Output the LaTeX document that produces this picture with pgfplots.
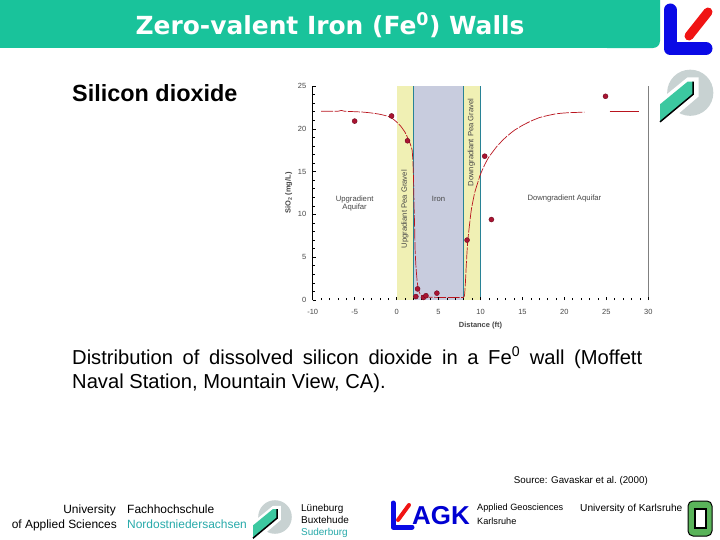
\documentclass[border=0pt]{standalone}
\usepackage{pgfplots}
\pgfplotsset{compat=1.18}
\usepackage{fontspec}
\setmainfont{Liberation Sans}
\newfontfamily\titlefont{DejaVu Sans}
\definecolor{titlegreen}{RGB}{25,195,155}
\definecolor{pyellow}{RGB}{240,240,180}
\definecolor{ironblue}{RGB}{200,204,222}
\definecolor{wallline}{RGB}{40,130,150}
\definecolor{curvered}{RGB}{185,20,30}
\definecolor{markfill}{RGB}{170,20,50}
\definecolor{markdraw}{RGB}{110,10,30}
\definecolor{logogray}{RGB}{200,210,210}
\definecolor{logoteal}{RGB}{60,200,160}
\definecolor{textteal}{RGB}{40,170,170}
\definecolor{agkblue}{RGB}{0,0,210}
\definecolor{lblue}{RGB}{10,10,230}
\definecolor{lred}{RGB}{240,20,20}
\definecolor{kagreen}{RGB}{90,180,90}
\definecolor{labelgray}{RGB}{70,70,70}

\newcommand\fhlogo[3]{%
\begin{scope}[shift={(#1,#2)},scale=#3]
 \fill[logogray] (0.55,0.45) circle (0.42);
 \fill[white] (-0.05,0.62) -- (0.5,0.17) -- (0.7,0.17) -- (0.7,0.52) -- (0.08,1.05) -- (-0.05,1.05) -- cycle;
 \fill[logoteal] (0,0.98) -- (0,0.66) -- (0.5,0.25) -- (0.6,0.25) -- (0.6,0.48) -- cycle;
 \draw[black,line width=1.5bp] (0.6,0.25) -- (0.6,0.48) -- (0,0.98);
\end{scope}}

\begin{document}
\begin{tikzpicture}
\path[use as bounding box, fill=white] (0,0) rectangle (720bp,-540bp);
\begin{scope}[x=1bp,y=-1bp]
 \fill[titlegreen] (0,0) rectangle (640,48);
 \fill[titlegreen, rounded corners=7bp] (600,-20) rectangle (660,48);
 \node[anchor=base, text=white, inner sep=0, font=\titlefont\bfseries\fontsize{25}{30}\selectfont] at (330,34) {Zero-valent Iron (Fe\textsuperscript{0}) Walls};
 % top-right logos
 \draw[line width=13bp, color=lblue, line cap=round, line join=round] (670,10) -- (670,48.5) -- (706,48.5);
 \draw[line width=9bp, color=lred, line cap=round] (689,36) -- (708,12);
 \fhlogo{660}{68}{55}
 % texts
 \node[anchor=base west, inner sep=0, font=\bfseries\fontsize{23.5}{28}\selectfont] at (72,101.5) {Silicon dioxide};
 \node[anchor=base west, inner sep=0, font=\fontsize{20.25}{24}\selectfont] at (72,364.3) {\makebox[570bp][s]{Distribution of dissolved silicon dioxide in a Fe\textsuperscript{0} wall (Moffett}};
 \node[anchor=base west, inner sep=0, font=\fontsize{20.25}{24}\selectfont] at (72,388.3) {Naval Station, Mountain View, CA).};
 \node[anchor=base east, inner sep=0, font=\fontsize{9.8}{11}\selectfont] at (648,483.5) {Source: Gavaskar et al.\ (2000)};
 % footer
 \node[anchor=base east, inner sep=0, font=\fontsize{12}{14}\selectfont] at (116,513.3) {University};
 \node[anchor=base west, inner sep=0, font=\fontsize{12}{14}\selectfont] at (127,513.3) {Fachhochschule};
 \node[anchor=base east, inner sep=0, font=\fontsize{12}{14}\selectfont] at (117,528.3) {of Applied Sciences};
 \node[anchor=base west, inner sep=0, font=\fontsize{12}{14}\selectfont, text=textteal] at (127,528.3) {Nordostniedersachsen};
 \fhlogo{253}{499}{40}
 \node[anchor=base west, inner sep=0, font=\fontsize{10}{12}\selectfont] at (301,511.6) {Lüneburg};
 \node[anchor=base west, inner sep=0, font=\fontsize{10}{12}\selectfont] at (301,523.6) {Buxtehude};
 \node[anchor=base west, inner sep=0, font=\fontsize{10}{12}\selectfont, text=textteal] at (301,535.6) {Suderburg};
 \draw[line width=5bp, color=lblue, line cap=round, line join=round] (393,503) -- (393,527) -- (412,527);
 \draw[line width=4bp, color=lred, line cap=round] (398,520) -- (409,505);
 \node[anchor=base west, inner sep=0, font=\bfseries\fontsize{26}{32}\selectfont, text=agkblue] at (412,524) {AGK};
 \node[anchor=base west, inner sep=0, font=\fontsize{9.2}{11}\selectfont] at (477,510.5) {Applied Geosciences};
 \node[anchor=base west, inner sep=0, font=\fontsize{9.2}{11}\selectfont] at (477,524) {Karlsruhe};
 \node[anchor=base west, inner sep=0, font=\fontsize{10.2}{11}\selectfont] at (580,511.5) {University of Karlsruhe};
 \filldraw[fill=kagreen, draw=black, line width=1bp, rounded corners=5bp] (688,501) rectangle (712,536);
 \filldraw[fill=white, draw=black, line width=2bp] (694.5,509) rectangle (705.5,528);
\end{scope}

\begin{axis}[
  scale only axis, width=335.6bp, height=214bp,
  at={(312.7bp,-300bp)}, anchor=south west,
  xmin=-10, xmax=30, ymin=0, ymax=25,
  axis x line*=bottom, axis y line*=left,
  x axis line style={draw=none},
  y axis line style={black, line width=0.8bp},
  xtick={-10,-5,...,30}, ytick={0,5,...,25},
  minor x tick num=4, minor y tick num=4,
  tick align=inside, major tick length=3.5bp, minor tick length=2.5bp,
  tick style={black, line width=0.6bp},
  ticklabel style={font=\fontsize{7.5}{9}\selectfont, text=labelgray},
  /pgf/number format/assume math mode=true,
  xticklabel style={yshift=-6bp},
  yticklabel style={xshift=-3bp},
  xlabel={Distance (ft)}, ylabel={SiO\textsubscript{2} (mg/L)},
  every axis x label/.style={at={(axis description cs:0.5,-0.121)}, anchor=center, font=\bfseries\fontsize{7.5}{9}\selectfont, text=labelgray},
  every axis y label/.style={at={(axis description cs:-0.0715,0.5)}, anchor=center, rotate=90, font=\bfseries\fontsize{7.5}{9}\selectfont, text=labelgray},
  clip=false, axis on top,
]
\addplot[fill=pyellow, draw=none] coordinates {(0,25) (2,25)} \closedcycle;
\addplot[fill=ironblue, draw=none] coordinates {(2,25) (8,25)} \closedcycle;
\addplot[fill=pyellow, draw=none] coordinates {(8,25) (10,25)} \closedcycle;
\addplot[wallline, line width=0.8bp] coordinates {(2,0) (2,25)};
\addplot[wallline, line width=0.8bp] coordinates {(8,0) (8,25)};
\addplot[wallline, line width=0.8bp] coordinates {(10,0) (10,25)};
\addplot[gray, line width=0.8bp] coordinates {(30,0) (30,25)};
\addplot[curvered, line width=0.7bp, dash pattern=on 12bp off 1.5bp, smooth, tension=0.3] coordinates {
(-9,22.05)(-7,22.05)(-6.6,22.15)(-6.2,22.05)(-5,22.0)(-4,21.95)(-3,21.85)(-2,21.7)(-1,21.45)(-0.5,21.2)(0,20.8)(0.5,20.3)(1,19.6)(1.3,19.0)(1.6,18.3)(1.85,17.5)(1.95,16)(2.02,14)(2.08,11)(2.15,8.5)(2.2,6)(2.3,4)(2.45,2.2)(2.6,1.2)(2.8,0.7)(3.1,0.45)(3.5,0.35)(5,0.3)(7,0.3)(7.95,0.3)(8.1,0.6)(8.2,2)(8.3,4)(8.45,6.5)(8.6,8)(8.9,10.5)(9.3,12.5)(9.7,13.8)(10,14.7)(10.5,15.8)(11,16.7)(12,18)(13,19)(14,19.8)(15,20.4)(16,20.9)(17,21.3)(18,21.55)(19,21.75)(20,21.85)(21,21.9)(22.4,21.95)};
\addplot[curvered, line width=0.7bp] coordinates {(25.4,22.0)(28.9,22.0)};
\addplot[only marks, mark=*, mark size=2.5bp, mark options={fill=markfill, draw=markdraw, line width=0.4bp}] coordinates {
(-5,20.9)(-0.6,21.5)(1.3,18.6)(2.5,1.3)(2.3,0.4)(3.2,0.3)(3.5,0.5)(4.8,0.8)(8.4,7.0)(10.5,16.8)(11.3,9.4)(24.9,23.8)};
\node[font=\fontsize{7.7}{8.5}\selectfont, text=labelgray, align=center] at (axis cs:-5,11.3) {Upgradient\\Aquifar};
\node[font=\fontsize{7.7}{8.5}\selectfont, text=labelgray] at (axis cs:5,11.8) {Iron};
\node[font=\fontsize{7.7}{8.5}\selectfont, text=labelgray] at (axis cs:20,11.8) {Downgradient Aquifar};
\node[font=\fontsize{7.7}{8.5}\selectfont, text=labelgray, rotate=90] at (axis cs:1.0,10.6) {Upgradiant Pea Gravel};
\node[font=\fontsize{7.7}{8.5}\selectfont, text=labelgray, rotate=90] at (axis cs:8.9,18.4) {Downgradiant Pea Gravel};
\end{axis}
\end{tikzpicture}
\end{document}
